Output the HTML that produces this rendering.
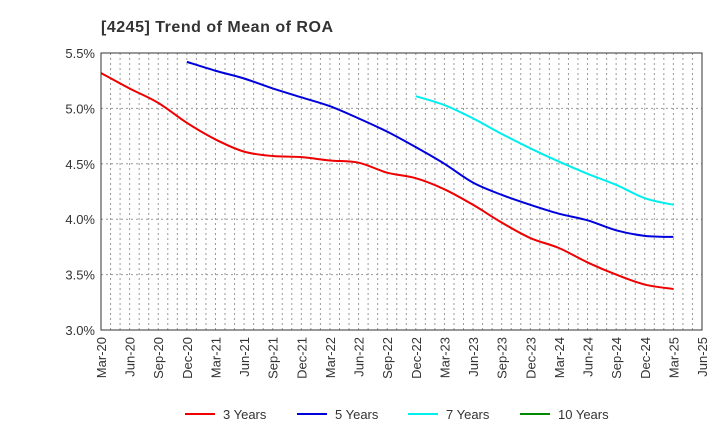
<!DOCTYPE html>
<html><head><meta charset="utf-8"><style>
body{margin:0;background:#fff;font-family:"Liberation Sans",sans-serif}
</style></head><body>
<svg id="c" width="720" height="440" xmlns="http://www.w3.org/2000/svg" font-family="Liberation Sans, sans-serif">
<text x="101" y="32" font-size="16" font-weight="bold" fill="#333" textLength="232">[4245]  Trend of Mean of ROA</text>
<g id="grid"></g><g id="series"></g><g id="axes"></g><g id="legend"></g>
</svg>
<script>
const xLabels=["Mar-20","Jun-20","Sep-20","Dec-20","Mar-21","Jun-21","Sep-21","Dec-21","Mar-22","Jun-22","Sep-22","Dec-22","Mar-23","Jun-23","Sep-23","Dec-23","Mar-24","Jun-24","Sep-24","Dec-24","Mar-25","Jun-25"];
const yTicks=[3.0,3.5,4.0,4.5,5.0,5.5];
const y3=[5.32,5.18,5.05,4.87,4.72,4.61,4.57,4.56,4.53,4.51,4.42,4.37,4.27,4.13,3.97,3.83,3.74,3.61,3.50,3.41,3.37];
const y5=[5.42,5.34,5.27,5.18,5.10,5.02,4.91,4.79,4.65,4.50,4.33,4.22,4.13,4.05,3.99,3.90,3.85,3.84];
const y7=[5.11,5.03,4.91,4.77,4.64,4.52,4.41,4.31,4.19,4.13];
const y10=[];
const L=101,R=702,T=53,B=330,ns="http://www.w3.org/2000/svg";
const X=i=>L+(R-L)*i/(xLabels.length-1);
const Y=v=>B-(v-3.0)/(2.5)*(B-T);
function mk(t,a,p){const e=document.createElementNS(ns,t);for(const k in a)e.setAttribute(k,a[k]);p.appendChild(e);return e;}
const grid=document.getElementById('grid'),axes=document.getElementById('axes'),ser=document.getElementById('series'),leg=document.getElementById('legend');
for(let m=1;m<(xLabels.length-1)*3;m++){const x=L+(R-L)*m/((xLabels.length-1)*3);
const g=mk('line',{x1:x,x2:x,y1:T,y2:B,stroke:'#999','stroke-dasharray':'2,3','stroke-width':1},grid);
}
yTicks.forEach(v=>{const y=Y(v);
const g=mk('line',{x1:L,x2:R,y1:y,y2:y,stroke:'#999','stroke-dasharray':'2,3'},grid);

const t=mk('text',{x:L-6,y:y+5,'text-anchor':'end','font-size':13,fill:'#333'},axes);t.textContent=v.toFixed(1)+'%';
});
const fr=mk('rect',{x:L,y:T,width:R-L,height:B-T,fill:'none',stroke:'#333'},axes);

xLabels.forEach((s,i)=>{const x=X(i);const t=mk('text',{x:0,y:0,'text-anchor':'end','font-size':13,fill:'#333',transform:`translate(${x+5},${B+7}) rotate(-90)`},axes);t.textContent=s;
});
function path(vals,start){const p=vals.map((v,i)=>[X(start+i),Y(v)]);if(!p.length)return'';let d=`M${p[0][0]},${p[0][1]}`;
for(let i=0;i<p.length-1;i++){const p0=p[i-1]||p[i],p1=p[i],p2=p[i+1],p3=p[i+2]||p2;
d+=`C${p1[0]+(p2[0]-p0[0])/6},${p1[1]+(p2[1]-p0[1])/6} ${p2[0]-(p3[0]-p1[0])/6},${p2[1]-(p3[1]-p1[1])/6} ${p2[0]},${p2[1]}`;}return d;}
const S=[[y3,0,'#ee0000','3 Years','series-3-years'],[y5,3,'#0000dd','5 Years','series-5-years'],[y7,11,'#00eeee','7 Years','series-7-years'],[y10,20,'#008800','10 Years','series-10-years']];
S.forEach((s,k)=>{if(s[0].length){const e=mk('path',{d:path(s[0],s[1]),fill:'none',stroke:s[2],'stroke-width':2},ser);
}
const lx=[185,297,408,520][k];
const g=mk('g',{},leg);
mk('line',{x1:lx,x2:lx+30,y1:414,y2:414,stroke:s[2],'stroke-width':2},g);
const t=mk('text',{x:lx+38,y:419,'font-size':13,fill:'#333'},g);t.textContent=s[3];});
</script>
</body></html>
